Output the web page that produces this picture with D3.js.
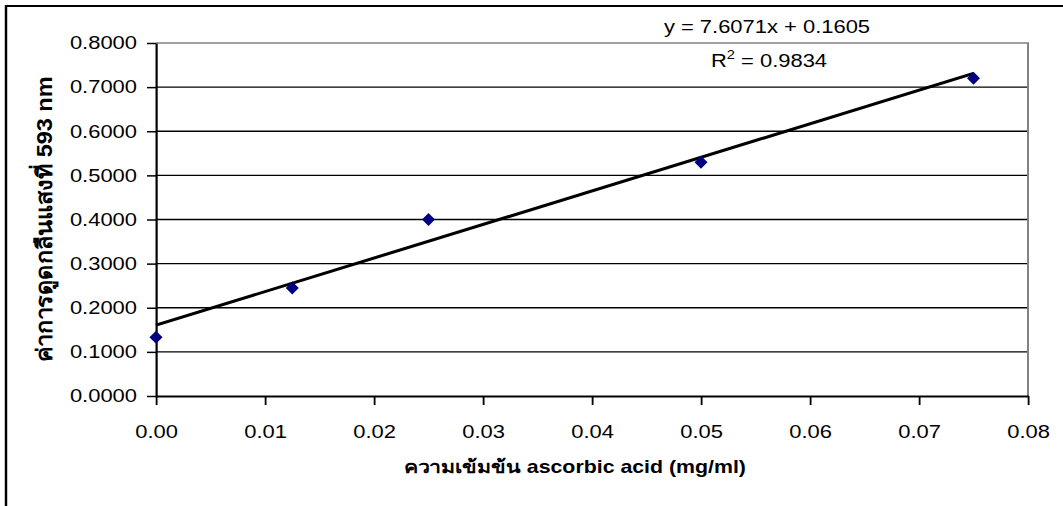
<!DOCTYPE html>
<html>
<head>
<meta charset="utf-8">
<script src="https://cdn.jsdelivr.net/npm/d3@7"></script>
<style>
  html, body { margin: 0; padding: 0; background: #fff; overflow: hidden; }
  svg { display: block; }
  text { font-family: "Liberation Sans", Arial, "Noto Sans", sans-serif; fill: #000; }
</style>
</head>
<body>
<div id="chart"></div>
<script>
// Standard curve data
const concentrations = [0, 0.0125, 0.025, 0.05, 0.075];
const absorbance = [0.133, 0.245, 0.400, 0.530, 0.720];
const xTicks = [0, 0.01, 0.02, 0.03, 0.04, 0.05, 0.06, 0.07, 0.08];
const yTicks = [0, 0.1, 0.2, 0.3, 0.4, 0.5, 0.6, 0.7, 0.8];
const slope = 7.6071;
const intercept = 0.1605;
const equationText = "y = 7.6071x + 0.1605";
const r2Value = "0.9834";
const xTitle = "ความเข้มข้น ascorbic acid (mg/ml)";
const yTitle = "ค่าการดูดกลืนแสงที่ 593 nm";

// the original picture is stretched sideways, so draw narrow and stretch
const stretch = 1.22;
const W = 1063 / stretch;
const H = 506;

const svg = d3.select("#chart")
  .append("svg")
  .attr("width", 1063)
  .attr("height", H)
  .attr("viewBox", `0 0 ${W} ${H}`)
  .attr("preserveAspectRatio", "none");

const margin = { top: 43, left: 156 / stretch, right: W - 1028 / stretch, bottom: H - 396 };
const width = W - margin.left - margin.right;
const height = H - margin.top - margin.bottom;

// outer chart border (only left/top visible in the picture)
svg.append("rect")
  .attr("x", 6 / stretch).attr("y", 6)
  .attr("width", W + 20).attr("height", H + 20)
  .attr("fill", "#fff")
  .attr("stroke", "#000")
  .attr("stroke-width", 2);

const chart = svg.append("g").attr("transform", `translate(${margin.left},${margin.top})`);

const xScale = d3.scaleLinear().domain([0, 0.08]).range([0, width]);
const yScale = d3.scaleLinear().domain([0, 0.8]).range([height, 0]);

// gridlines
chart.append("g")
  .selectAll("line")
  .data(yTicks.slice(1, -1))
  .join("line")
  .attr("x1", 0).attr("x2", width)
  .attr("y1", d => yScale(d)).attr("y2", d => yScale(d))
  .attr("stroke", "#000")
  .attr("stroke-width", 1.3);

// plot area border (grey, top and right)
chart.append("path")
  .attr("d", `M0,${yScale(0.8)}H${xScale(0.08)}V${yScale(0)}`)
  .attr("fill", "none")
  .attr("stroke", "#808080")
  .attr("stroke-width", 1.6);

// axes
const xAxis = chart.append("g")
  .attr("transform", `translate(0,${height})`)
  .call(d3.axisBottom(xScale).tickValues(xTicks).tickFormat(d3.format(".2f"))
    .tickSize(9).tickSizeOuter(0).tickPadding(20));

const yAxis = chart.append("g")
  .call(d3.axisLeft(yScale).tickValues(yTicks).tickFormat(d3.format(".4f"))
    .tickSize(9 / stretch).tickSizeOuter(0).tickPadding(10 / stretch));

[xAxis, yAxis].forEach(a => {
  a.selectAll("text").attr("font-size", 18).attr("font-family", '"Liberation Sans", Arial, sans-serif').attr("fill", "#000");
  a.selectAll("line").attr("stroke", "#000").attr("stroke-width", 1.5);
  a.select(".domain").attr("stroke", "#000").attr("stroke-width", 1.8);
});

// trend line
const fitLine = d3.line()
  .x(d => xScale(d))
  .y(d => yScale(slope * d + intercept));
chart.append("path")
  .datum([0, d3.max(concentrations)])
  .attr("d", fitLine)
  .attr("fill", "none")
  .attr("stroke", "#000")
  .attr("stroke-width", 3);

// diamond markers
const hw = 6.5 / stretch, hh = 6.5;
chart.append("g")
  .selectAll("path")
  .data(concentrations.map((c, i) => ({ x: c, y: absorbance[i] })))
  .join("path")
  .attr("transform", d => `translate(${xScale(d.x)},${yScale(d.y)})`)
  .attr("d", `M0,${-hh}L${hw},0L0,${hh}L${-hw},0Z`)
  .attr("fill", "#000080");

// equation labels
svg.append("text")
  .attr("x", 767 / stretch).attr("y", 33)
  .attr("text-anchor", "middle")
  .attr("font-size", 18)
  .text(equationText);

const r2 = svg.append("text")
  .attr("x", 769 / stretch).attr("y", 67)
  .attr("text-anchor", "middle")
  .attr("font-size", 18);
r2.append("tspan").text("R");
r2.append("tspan").attr("font-size", 12).attr("dy", -8).text("2");
r2.append("tspan").attr("dy", 8).text(" = " + r2Value);

// axis titles
svg.append("text")
  .attr("x", 575 / stretch).attr("y", 473)
  .attr("text-anchor", "middle")
  .attr("font-size", 18)
  .attr("font-weight", "bold")
  .attr("textLength", 342 / stretch)
  .attr("lengthAdjust", "spacingAndGlyphs")
  .text(xTitle);

svg.append("text")
  .attr("transform", `translate(${52 / stretch},${margin.top + height / 2}) rotate(-90)`)
  .attr("text-anchor", "middle")
  .attr("font-size", 18)
  .attr("font-weight", "bold")
  .attr("textLength", 286)
  .attr("lengthAdjust", "spacingAndGlyphs")
  .text(yTitle);
</script>
</body>
</html>
